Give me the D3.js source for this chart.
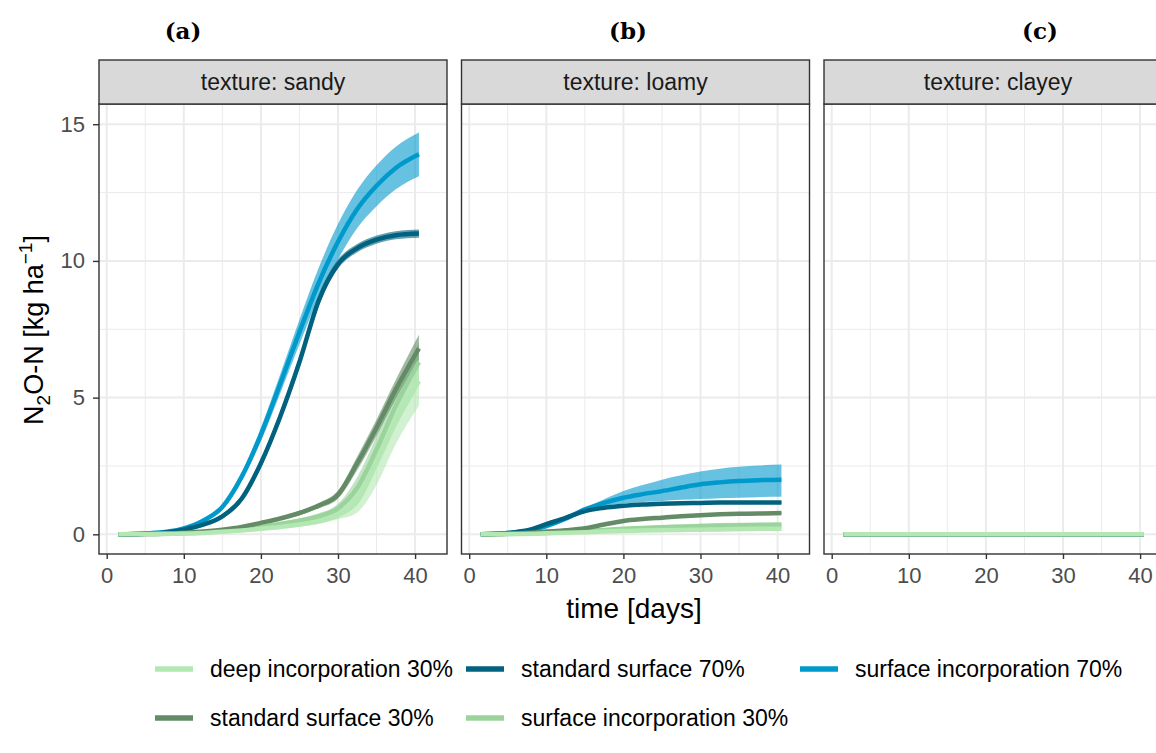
<!DOCTYPE html>
<html>
<head>
<meta charset="utf-8">
<script src="https://cdnjs.cloudflare.com/ajax/libs/d3/7.8.5/d3.min.js"></script>
<style>
    body { margin: 0; background: #fff; }
    text { font-family: "Liberation Sans", Arial, sans-serif; }
</style>
</head>
<body>
<script>
// time points (days)
var days = [1.5, 5, 8, 10, 12.5, 15, 17.5, 20, 22.5, 25, 27.5, 30, 32.5, 35, 37.5, 40.5];

var textures = ["sandy", "loamy", "clayey"];
var panelLabels = ["(a)", "(b)", "(c)"];
var treatments = ["deep incorporation 30%", "standard surface 30%", "standard surface 70%",
                  "surface incorporation 30%", "surface incorporation 70%"];
var colors = ["#b3e8b3", "#638b65", "#00627f", "#9ad49c", "#0099cc"];
var xTicks = [0, 10, 20, 30, 40];
var yTicks = [0, 5, 10, 15];

// sandy
var sandy_di30    = [0, 0.01, 0.02, 0.03, 0.05, 0.09, 0.14, 0.2, 0.27, 0.36, 0.48, 0.7, 1.2, 2.6, 4.1, 5.6];
var sandy_di30_lo = [0, 0, 0.01, 0.02, 0.03, 0.06, 0.1, 0.15, 0.2, 0.28, 0.38, 0.55, 0.8, 1.8, 3.3, 4.7];
var sandy_di30_hi = [0, 0.02, 0.03, 0.04, 0.07, 0.12, 0.18, 0.25, 0.34, 0.45, 0.6, 0.88, 1.7, 3.3, 4.8, 6.4];
var sandy_ss30    = [0, 0.01, 0.03, 0.06, 0.1, 0.17, 0.27, 0.42, 0.58, 0.78, 1.05, 1.45, 2.6, 3.9, 5.3, 6.8];
var sandy_ss30_lo = [0, 0.01, 0.02, 0.05, 0.08, 0.14, 0.23, 0.37, 0.52, 0.7, 0.95, 1.3, 2.35, 3.6, 4.95, 6.35];
var sandy_ss30_hi = [0, 0.02, 0.04, 0.07, 0.12, 0.2, 0.31, 0.47, 0.64, 0.86, 1.15, 1.6, 2.85, 4.2, 5.65, 7.3];
var sandy_ss70    = [0, 0.02, 0.08, 0.17, 0.35, 0.66, 1.3, 2.6, 4.3, 6.3, 8.55, 9.88, 10.47, 10.78, 10.94, 11.0];
var sandy_ss70_lo = [0, 0.01, 0.06, 0.14, 0.3, 0.58, 1.18, 2.45, 4.12, 6.1, 8.35, 9.71, 10.32, 10.63, 10.79, 10.85];
var sandy_ss70_hi = [0, 0.03, 0.1, 0.2, 0.4, 0.74, 1.42, 2.75, 4.48, 6.5, 8.75, 10.05, 10.62, 10.93, 11.09, 11.15];
var sandy_si30    = [0, 0.01, 0.02, 0.04, 0.07, 0.12, 0.19, 0.28, 0.38, 0.5, 0.66, 0.95, 1.7, 3.1, 4.7, 6.3];
var sandy_si30_lo = [0, 0, 0.01, 0.03, 0.05, 0.09, 0.15, 0.23, 0.31, 0.41, 0.55, 0.78, 1.3, 2.6, 4.1, 5.6];
var sandy_si30_hi = [0, 0.02, 0.03, 0.05, 0.09, 0.15, 0.23, 0.33, 0.45, 0.59, 0.77, 1.12, 2.1, 3.6, 5.3, 7.0];
var sandy_si70    = [0, 0.03, 0.1, 0.22, 0.5, 1.0, 2.1, 3.65, 5.5, 7.4, 9.2, 10.7, 11.9, 12.75, 13.4, 13.9];
var sandy_si70_lo = [0, 0.02, 0.08, 0.19, 0.45, 0.92, 1.95, 3.4, 5.15, 6.95, 8.65, 10.05, 11.2, 12.0, 12.62, 13.1];
var sandy_si70_hi = [0, 0.04, 0.12, 0.25, 0.55, 1.08, 2.25, 3.9, 5.85, 7.85, 9.75, 11.35, 12.6, 13.5, 14.18, 14.7];

// loamy
var loamy_di30    = [0, 0.01, 0.02, 0.04, 0.06, 0.08, 0.1, 0.12, 0.14, 0.15, 0.16, 0.17, 0.18, 0.19, 0.2, 0.2];
var loamy_di30_lo = [0, 0, 0.01, 0.02, 0.04, 0.05, 0.06, 0.07, 0.08, 0.09, 0.1, 0.1, 0.11, 0.11, 0.12, 0.12];
var loamy_di30_hi = [0, 0.02, 0.03, 0.06, 0.08, 0.11, 0.14, 0.17, 0.2, 0.21, 0.22, 0.24, 0.25, 0.27, 0.28, 0.28];
var loamy_ss30    = [0, 0.02, 0.06, 0.1, 0.15, 0.22, 0.36, 0.49, 0.56, 0.61, 0.66, 0.7, 0.73, 0.75, 0.76, 0.78];
var loamy_ss30_lo = [0, 0.01, 0.05, 0.09, 0.13, 0.2, 0.33, 0.46, 0.53, 0.58, 0.62, 0.66, 0.69, 0.71, 0.72, 0.74];
var loamy_ss30_hi = [0, 0.03, 0.07, 0.11, 0.17, 0.24, 0.39, 0.52, 0.59, 0.64, 0.7, 0.74, 0.77, 0.79, 0.8, 0.82];
var loamy_ss70    = [0, 0.05, 0.18, 0.37, 0.6, 0.85, 0.97, 1.04, 1.09, 1.12, 1.14, 1.15, 1.16, 1.16, 1.16, 1.16];
var loamy_ss70_lo = [0, 0.04, 0.15, 0.33, 0.55, 0.8, 0.92, 0.99, 1.04, 1.07, 1.09, 1.1, 1.11, 1.11, 1.11, 1.11];
var loamy_ss70_hi = [0, 0.06, 0.21, 0.41, 0.65, 0.9, 1.02, 1.09, 1.14, 1.17, 1.19, 1.2, 1.21, 1.21, 1.21, 1.21];
var loamy_si30    = [0, 0.01, 0.03, 0.05, 0.08, 0.12, 0.16, 0.2, 0.23, 0.26, 0.28, 0.3, 0.32, 0.33, 0.34, 0.35];
var loamy_si30_lo = [0, 0, 0.02, 0.03, 0.05, 0.08, 0.11, 0.14, 0.16, 0.18, 0.2, 0.21, 0.22, 0.23, 0.24, 0.25];
var loamy_si30_hi = [0, 0.02, 0.04, 0.07, 0.11, 0.16, 0.21, 0.26, 0.3, 0.34, 0.37, 0.39, 0.41, 0.42, 0.43, 0.44];
var loamy_si70    = [0, 0.05, 0.15, 0.3, 0.57, 0.91, 1.15, 1.34, 1.47, 1.58, 1.71, 1.83, 1.9, 1.95, 1.98, 2.0];
var loamy_si70_lo = [0, 0.04, 0.13, 0.27, 0.52, 0.85, 1.04, 1.12, 1.18, 1.22, 1.26, 1.29, 1.32, 1.34, 1.36, 1.37];
var loamy_si70_hi = [0, 0.06, 0.17, 0.33, 0.62, 0.97, 1.28, 1.58, 1.8, 2.0, 2.16, 2.3, 2.4, 2.47, 2.52, 2.55];

// clayey
var clayey_di30 = [0, 0, 0, 0, 0, 0, 0, 0, 0, 0, 0, 0, 0, 0, 0, 0];
var clayey_ss30 = [0, 0, 0, 0, 0, 0, 0, 0, 0, 0, 0, 0, 0, 0, 0, 0];
var clayey_ss70 = [0, 0, 0, 0, 0, 0, 0, 0, 0, 0, 0, 0, 0, 0, 0, 0];
var clayey_si30 = [0, 0, 0, 0, 0, 0, 0, 0, 0, 0, 0, 0, 0, 0, 0, 0];
var clayey_si70 = [0, 0, 0, 0, 0, 0, 0, 0, 0, 0, 0, 0, 0, 0, -0.01, -0.01];

var panelData = {
    sandy: [
        {mid: sandy_di30, lo: sandy_di30_lo, hi: sandy_di30_hi},
        {mid: sandy_ss30, lo: sandy_ss30_lo, hi: sandy_ss30_hi},
        {mid: sandy_ss70, lo: sandy_ss70_lo, hi: sandy_ss70_hi},
        {mid: sandy_si30, lo: sandy_si30_lo, hi: sandy_si30_hi},
        {mid: sandy_si70, lo: sandy_si70_lo, hi: sandy_si70_hi}
    ],
    loamy: [
        {mid: loamy_di30, lo: loamy_di30_lo, hi: loamy_di30_hi},
        {mid: loamy_ss30, lo: loamy_ss30_lo, hi: loamy_ss30_hi},
        {mid: loamy_ss70, lo: loamy_ss70_lo, hi: loamy_ss70_hi},
        {mid: loamy_si30, lo: loamy_si30_lo, hi: loamy_si30_hi},
        {mid: loamy_si70, lo: loamy_si70_lo, hi: loamy_si70_hi}
    ],
    clayey: [
        {mid: clayey_di30, lo: clayey_di30, hi: clayey_di30},
        {mid: clayey_ss30, lo: clayey_ss30, hi: clayey_ss30},
        {mid: clayey_ss70, lo: clayey_ss70, hi: clayey_ss70},
        {mid: clayey_si30, lo: clayey_si30, hi: clayey_si30},
        {mid: clayey_si70, lo: clayey_si70, hi: clayey_si70}
    ]
};

var w = 1156, h = 753;
var panelLefts = [99, 461.5, 824];
var panelW = 348;
var stripTop = 60, plotTop = 104, plotBottom = 554;

var svg = d3.select("body").append("svg")
    .attr("width", w)
    .attr("height", h);

var y = d3.scaleLinear().domain([-0.72, 15.74]).range([plotBottom, plotTop]);

textures.forEach(function (tex, p) {
    var left = panelLefts[p];
    var x = d3.scaleLinear().domain([-1.0, 44.14]).range([left, left + panelW]);
    var g = svg.append("g");

    g.append("clipPath").attr("id", "clip" + p)
        .append("rect")
        .attr("x", left).attr("y", plotTop)
        .attr("width", panelW).attr("height", plotBottom - plotTop);

    // grid
    var minorX = [5, 15, 25, 35], minorY = [2.5, 7.5, 12.5];
    g.selectAll(".gminx").data(minorX).enter().append("line")
        .attr("x1", function (d) { return x(d); }).attr("x2", function (d) { return x(d); })
        .attr("y1", plotTop).attr("y2", plotBottom)
        .attr("stroke", "#ebebeb").attr("stroke-width", 1);
    g.selectAll(".gminy").data(minorY).enter().append("line")
        .attr("x1", left).attr("x2", left + panelW)
        .attr("y1", function (d) { return y(d); }).attr("y2", function (d) { return y(d); })
        .attr("stroke", "#ebebeb").attr("stroke-width", 1);
    g.selectAll(".gmajx").data(xTicks).enter().append("line")
        .attr("x1", function (d) { return x(d); }).attr("x2", function (d) { return x(d); })
        .attr("y1", plotTop).attr("y2", plotBottom)
        .attr("stroke", "#ebebeb").attr("stroke-width", 2);
    g.selectAll(".gmajy").data(yTicks).enter().append("line")
        .attr("x1", left).attr("x2", left + panelW)
        .attr("y1", function (d) { return y(d); }).attr("y2", function (d) { return y(d); })
        .attr("stroke", "#ebebeb").attr("stroke-width", 2);

    // data
    var series = panelData[tex];
    var order = [4, 3, 2, 1, 0];
    var dg = g.append("g").attr("clip-path", "url(#clip" + p + ")");

    var area = d3.area()
        .x(function (d) { return x(d.t); })
        .y0(function (d) { return y(d.lo); })
        .y1(function (d) { return y(d.hi); })
        .curve(d3.curveMonotoneX);
    var line = d3.line()
        .x(function (d) { return x(d.t); })
        .y(function (d) { return y(d.v); })
        .curve(d3.curveMonotoneX);

    order.forEach(function (i) {
        var s = series[i];
        var pts = days.map(function (t, k) { return {t: t, lo: s.lo[k], hi: s.hi[k]}; });
        dg.append("path").datum(pts)
            .attr("d", area)
            .attr("fill", colors[i])
            .attr("fill-opacity", 0.6);
    });
    order.forEach(function (i) {
        var s = series[i];
        var pts = days.map(function (t, k) { return {t: t, v: s.mid[k]}; });
        dg.append("path").datum(pts)
            .attr("d", line)
            .attr("fill", "none")
            .attr("stroke", colors[i])
            .attr("stroke-width", 4.5);
    });

    // border
    g.append("rect")
        .attr("x", left).attr("y", plotTop)
        .attr("width", panelW).attr("height", plotBottom - plotTop)
        .attr("fill", "none").attr("stroke", "#333333").attr("stroke-width", 1.4);

    // strip
    g.append("rect")
        .attr("x", left).attr("y", stripTop)
        .attr("width", panelW).attr("height", plotTop - stripTop)
        .attr("fill", "#d9d9d9").attr("stroke", "#333333").attr("stroke-width", 1.4);
    g.append("text")
        .attr("x", left + panelW / 2).attr("y", 90)
        .attr("text-anchor", "middle")
        .attr("font-size", 23)
        .attr("fill", "#1a1a1a")
        .text("texture: " + tex);

    // x axis
    var xa = g.append("g")
        .attr("transform", "translate(0," + plotBottom + ")")
        .call(d3.axisBottom(x).tickValues(xTicks).tickSize(5).tickPadding(8));
    xa.select(".domain").remove();
    xa.selectAll("line").attr("stroke", "#333333").attr("stroke-width", 1.4);
    xa.selectAll("text").attr("fill", "#4d4d4d").attr("font-size", 22)
        .style("font-family", "Liberation Sans, Arial, sans-serif");

    if (p === 0) {
        var ya = g.append("g")
            .attr("transform", "translate(" + left + ",0)")
            .call(d3.axisLeft(y).tickValues(yTicks).tickSize(6).tickPadding(8));
        ya.select(".domain").remove();
        ya.selectAll("line").attr("stroke", "#333333").attr("stroke-width", 1.4);
        ya.selectAll("text").attr("fill", "#4d4d4d").attr("font-size", 22)
            .style("font-family", "Liberation Sans, Arial, sans-serif");
    }
});

// panel labels
var labelX = [183, 628, 1040];
svg.selectAll(".plab").data(panelLabels).enter().append("text")
    .attr("x", function (d, i) { return labelX[i]; })
    .attr("y", 39)
    .attr("text-anchor", "middle")
    .style("font-family", "'DejaVu Serif', serif")
    .attr("font-weight", "bold")
    .attr("font-size", 23)
    .text(function (d) { return d; });

// axis titles
svg.append("text")
    .attr("x", 634).attr("y", 618)
    .attr("text-anchor", "middle")
    .attr("font-size", 28)
    .text("time [days]");

var yt = svg.append("text")
    .attr("transform", "translate(43,330) rotate(-90)")
    .attr("text-anchor", "middle")
    .attr("font-size", 27);
yt.append("tspan").text("N");
yt.append("tspan").attr("dy", 7).attr("font-size", 19).text("2");
yt.append("tspan").attr("dy", -7).text("O-N [kg ha");
yt.append("tspan").attr("dy", -11).attr("font-size", 19).text("\u22121");
yt.append("tspan").attr("dy", 11).text("]");

// legend
var legX = [155, 466, 800], legY = [669, 718];
var leg = svg.selectAll(".leg").data(treatments).enter().append("g")
    .attr("transform", function (d, i) {
        return "translate(" + legX[Math.floor(i / 2)] + "," + legY[i % 2] + ")";
    });
leg.append("line")
    .attr("x1", 0).attr("x2", 38)
    .attr("stroke", function (d, i) { return colors[i]; })
    .attr("stroke-width", 5.5);
leg.append("text")
    .attr("x", 55).attr("dy", "0.35em")
    .attr("font-size", 23)
    .text(function (d) { return d; });
</script>
</body>
</html>
